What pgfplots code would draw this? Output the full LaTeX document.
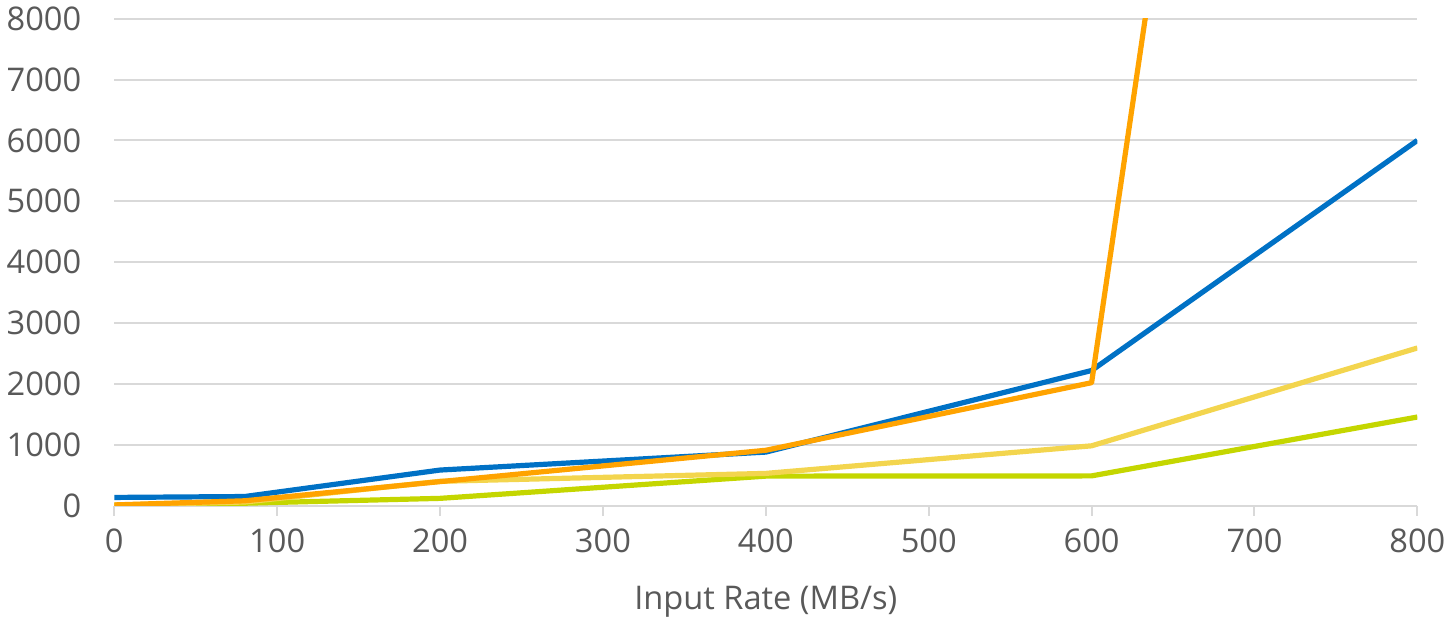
\documentclass[border=0pt]{standalone}
\usepackage{pgfplots}
\pgfplotsset{compat=1.18}
\usepackage{fontspec}
\setmainfont{Open Sans}
\definecolor{cblue}{HTML}{0071C5}
\definecolor{corange}{HTML}{FFA300}
\definecolor{cyellow}{HTML}{F3D54E}
\definecolor{cgreen}{HTML}{C4D600}
\definecolor{ctext}{HTML}{595959}
\definecolor{cgrid}{HTML}{D9D9D9}
\begin{document}
\begin{tikzpicture}
\begin{axis}[
  scale only axis,
  width=651.5pt, height=243.5pt,
  xmin=0, xmax=800, ymin=0, ymax=8000,
  xtick={0,100,...,800}, ytick={0,1000,...,8000},
  /pgf/number format/assume math mode=true,
  scaled y ticks=false,
  yticklabel style={/pgf/number format/fixed, /pgf/number format/1000 sep={}},
  xticklabel style={/pgf/number format/1000 sep={}},
  ticklabel style={font=\fontsize{16.3pt}{19pt}\selectfont, text=ctext},
  label style={font=\fontsize{16.3pt}{19pt}\selectfont, text=ctext},
  xlabel={Input Rate (MB/s)},
  xlabel style={yshift=-10pt},
  ymajorgrids, grid style={cgrid, line width=1pt},
  axis x line*=bottom, axis y line*=left,
  x axis line style={cgrid, line width=1pt, -},
  y axis line style={draw=none},
  xtick style={cgrid, line width=1pt},
  xtick align=outside, major tick length=5pt,
  ytick style={draw=none},
  yticklabel style={xshift=-13pt},
  xticklabel style={yshift=-3pt},
  clip=true,
  every axis plot/.append style={line width=2.6pt, line join=round},
]
\addplot[cgreen] coordinates {(0,5) (80,40) (200,120) (400,485) (600,489) (800,1456)};
\addplot[cyellow] coordinates {(0,10) (80,60) (200,400) (400,530) (600,983) (800,2590)};
\addplot[cblue] coordinates {(0,135) (80,150) (200,585) (400,880) (600,2220) (800,6000)};
\addplot[corange] coordinates {(0,12) (80,80) (200,395) (400,910) (600,2020) (700,20200)};
\end{axis}
\end{tikzpicture}
\end{document}
